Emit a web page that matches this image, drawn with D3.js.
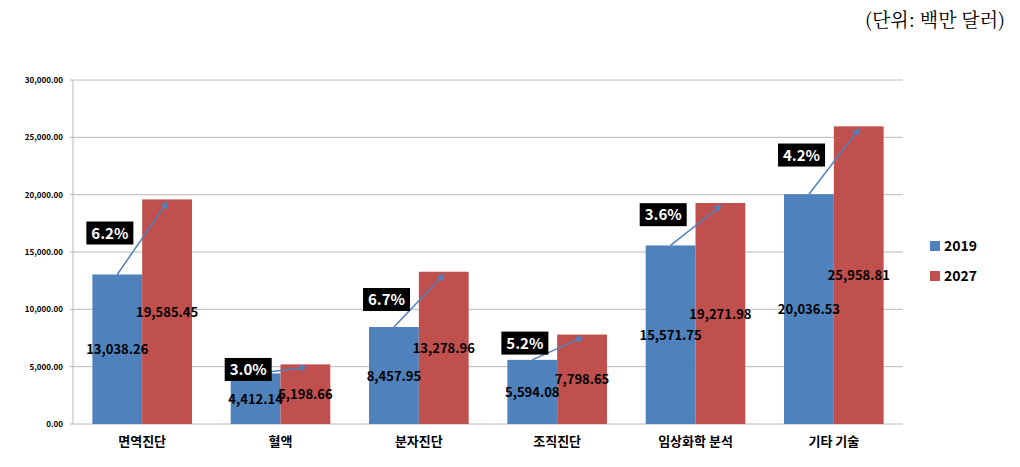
<!DOCTYPE html>
<html><head><meta charset="utf-8">
<script src="https://cdn.jsdelivr.net/npm/d3@7"></script>
<style>body{margin:0;background:#fff;font-family:"Malgun Gothic","Noto Sans CJK KR",sans-serif}</style>
</head><body><div id="chart"></div>
<script>
var categories = ["면역진단", "혈액", "분자진단", "조직진단", "임상화학 분석", "기타 기술"];
var values2019 = [13038.26, 4412.14, 8457.95, 5594.08, 15571.75, 20036.53];
var values2027 = [19585.45, 5198.66, 13278.96, 7798.65, 19271.98, 25958.81];
var growth = ["6.2%", "3.0%", "6.7%", "5.2%", "3.6%", "4.2%"];
var growthAt = [16700, 4800, 10900, 7100, 18300, 23500]; // label position in value units
var yTicks = [0, 5000, 10000, 15000, 20000, 25000, 30000];
var seriesNames = ["2019", "2027"];
var colors = ["#4f81bd", "#c0504d"];

var svgWidth = 1020, svgHeight = 467;
var margin = {top: 80, right: 117, bottom: 43, left: 73};
var width = svgWidth - margin.left - margin.right;
var height = svgHeight - margin.top - margin.bottom;

var svg = d3.select("#chart").append("svg")
    .attr("width", svgWidth).attr("height", svgHeight);

svg.append("defs").append("marker")
    .attr("id", "arr").attr("viewBox", "0 0 10 10")
    .attr("refX", 8).attr("refY", 5)
    .attr("markerWidth", 5).attr("markerHeight", 5)
    .attr("orient", "auto")
    .append("path").attr("d", "M0,0L10,5L0,10z").attr("fill", "#4f81bd");

svg.append("text")
    .attr("x", 1005).attr("y", 27)
    .attr("text-anchor", "end")
    .attr("font-family", "'Noto Serif CJK KR','Noto Sans CJK KR',serif")
    .attr("font-size", 19)
    .text("(단위: 백만 달러)");

var g = svg.append("g").attr("transform", `translate(${margin.left},${margin.top})`);

var x = d3.scaleBand().domain(categories).range([0, width]).paddingInner(0.28).paddingOuter(0.14);
var xs = d3.scaleBand().domain(seriesNames).range([0, x.bandwidth()]);
var y = d3.scaleLinear().domain([0, 30000]).range([height, 0]);

// gridlines
g.selectAll(".grid").data(yTicks).enter().append("line")
    .attr("x1", -3).attr("x2", width)
    .attr("y1", d => y(d)).attr("y2", d => y(d))
    .attr("stroke", "#b8b8b8").attr("stroke-width", 1);
g.append("line").attr("x1", 0).attr("x2", 0).attr("y1", 0).attr("y2", height)
    .attr("stroke", "#b8b8b8");

g.selectAll(".ytick").data(yTicks).enter().append("text")
    .attr("x", -10).attr("y", d => y(d) + 3)
    .attr("text-anchor", "end").attr("font-size", 8).attr("font-weight", "bold")
    .text(d => d3.format(",.2f")(d));

g.selectAll(".xlab").data(categories).enter().append("text")
    .attr("x", d => x(d) + x.bandwidth() / 2).attr("y", height + 22)
    .attr("text-anchor", "middle").attr("font-size", 13).attr("font-weight", "bold")
    .text(d => d);

var series = [values2019, values2027];
series.forEach(function(vals, si) {
    var bx = (d, i) => x(categories[i]) + xs(seriesNames[si]);
    g.selectAll(".bar" + si).data(vals).enter().append("rect")
        .attr("x", bx).attr("width", xs.bandwidth())
        .attr("y", d => y(d)).attr("height", d => height - y(d))
        .attr("fill", colors[si]);
});

// arrows
g.selectAll(".arrow").data(categories).enter().append("line")
    .attr("x1", (d, i) => x(d) + xs("2019") + xs.bandwidth() / 2)
    .attr("y1", (d, i) => y(values2019[i]))
    .attr("x2", (d, i) => x(d) + xs("2027") + xs.bandwidth() / 2)
    .attr("y2", (d, i) => y(values2027[i]) + 3)
    .attr("stroke", "#4f81bd").attr("stroke-width", 1.5)
    .attr("marker-end", "url(#arr)");

// value labels
series.forEach(function(vals, si) {
    g.selectAll(".val" + si).data(vals).enter().append("text")
        .attr("x", (d, i) => x(categories[i]) + xs(seriesNames[si]) + xs.bandwidth() / 2)
        .attr("y", d => (y(d) + height) / 2 + 5)
        .attr("text-anchor", "middle").attr("font-size", 13).attr("font-weight", "bold")
        .text(d => d3.format(",.2f")(d));
});

// growth boxes
var gb = g.selectAll(".growth").data(growth).enter().append("g")
    .attr("transform", (d, i) => `translate(${x(categories[i]) - 6},${y(growthAt[i])})`);
gb.append("rect").attr("x", 0).attr("y", -11).attr("width", 47).attr("height", 23).attr("fill", "#000");
gb.append("text").attr("x", 23.5).attr("y", 6)
    .attr("text-anchor", "middle").attr("fill", "#fff").attr("font-size", 15).attr("font-weight", "bold")
    .text(d => d);

// legend
var lg = svg.append("g").attr("transform", "translate(930,246)");
seriesNames.forEach(function(s, i) {
    lg.append("rect").attr("x", 0).attr("y", i * 30 - 5).attr("width", 10).attr("height", 10).attr("fill", colors[i]);
    lg.append("text").attr("x", 14).attr("y", i * 30 + 5).attr("font-size", 14).attr("font-weight", "bold").text(s);
});
</script></body></html>
